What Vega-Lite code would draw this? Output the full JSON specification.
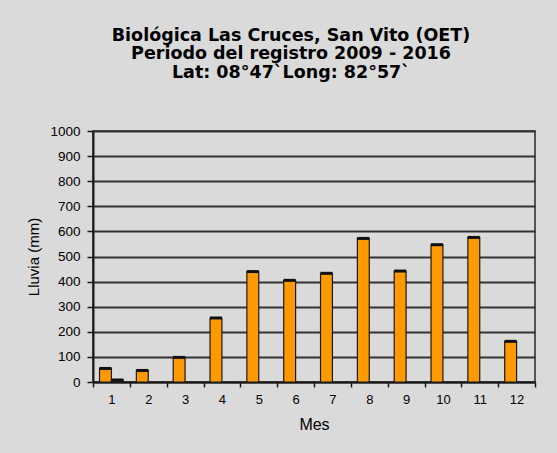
{
  "$schema": "https://vega.github.io/schema/vega-lite/v6.json",
  "autosize": "none",
  "padding": {"left": 93, "top": 131, "right": 22, "bottom": 71},
  "width": 442,
  "height": 251,
  "background": "#dadada",
  "title": {
    "text": ["Biológica Las Cruces, San Vito (OET)", "Periodo del registro 2009 - 2016", "Lat: 08°47`Long: 82°57`"],
    "font": "DejaVu Sans",
    "fontSize": 17.5,
    "fontWeight": "bold",
    "color": "#000000",
    "lineHeight": 18.5,
    "anchor": "middle",
    "dx": -23,
    "offset": 43
  },
  "data": {
    "values": [
      {"mes": 1, "serie": "A", "lluvia": 54},
      {"mes": 2, "serie": "A", "lluvia": 46},
      {"mes": 3, "serie": "A", "lluvia": 98},
      {"mes": 4, "serie": "A", "lluvia": 255},
      {"mes": 5, "serie": "A", "lluvia": 440},
      {"mes": 6, "serie": "A", "lluvia": 405},
      {"mes": 7, "serie": "A", "lluvia": 433},
      {"mes": 8, "serie": "A", "lluvia": 572},
      {"mes": 9, "serie": "A", "lluvia": 442},
      {"mes": 10, "serie": "A", "lluvia": 547},
      {"mes": 11, "serie": "A", "lluvia": 576},
      {"mes": 12, "serie": "A", "lluvia": 162},
      {"mes": 1, "serie": "B", "lluvia": 8}
    ]
  },
  "encoding": {
    "x": {
      "field": "mes",
      "type": "ordinal",
      "scale": {"paddingInner": 0, "paddingOuter": 0},
      "axis": {
        "title": "Mes",
        "titleFont": "Liberation Sans",
        "titleFontSize": 16,
        "titleFontWeight": "normal",
        "titleColor": "#000000",
        "titlePadding": 10,
        "labelAngle": 0,
        "labelFont": "Liberation Sans",
        "labelFontSize": 13,
        "labelColor": "#000000",
        "labelPadding": 6,
        "tickBand": "extent",
        "tickColor": "#1a1a1a",
        "tickSize": 5,
        "tickWidth": 1.5,
        "domainColor": "#1a1a1a",
        "domainWidth": 2,
        "grid": false
      }
    },
    "xOffset": {
      "field": "serie",
      "type": "nominal",
      "scale": {"paddingInner": 0, "paddingOuter": 0.55}
    },
    "y": {
      "field": "lluvia",
      "type": "quantitative",
      "scale": {"domain": [0, 1000], "nice": false},
      "axis": {
        "title": "Lluvia (mm)",
        "titleFont": "Liberation Sans",
        "titleFontSize": 15,
        "titleFontWeight": "normal",
        "titleColor": "#000000",
        "titlePadding": 8,
        "values": [0, 100, 200, 300, 400, 500, 600, 700, 800, 900, 1000],
        "format": "d",
        "labelFont": "Liberation Sans",
        "labelFontSize": 13.5,
        "labelColor": "#000000",
        "labelPadding": 7,
        "tickColor": "#1a1a1a",
        "tickSize": 6,
        "tickWidth": 1.5,
        "domainColor": "#1a1a1a",
        "domainWidth": 2,
        "grid": true,
        "gridColor": "#333333",
        "gridWidth": 1.8
      }
    }
  },
  "layer": [
    {
      "mark": {"type": "bar", "stroke": "#1a1a1a", "strokeWidth": 1.2},
      "encoding": {
        "color": {
          "field": "serie",
          "type": "nominal",
          "scale": {"domain": ["A", "B"], "range": ["#ff9900", "#0b4010"]},
          "legend": null
        }
      }
    },
    {
      "mark": {"type": "tick", "color": "#111111", "thickness": 3, "size": 12, "opacity": 1},
      "encoding": {}
    }
  ],
  "config": {
    "view": {"stroke": "#2a2a2a", "strokeWidth": 1.5, "fill": "#dadada"}
  }
}
